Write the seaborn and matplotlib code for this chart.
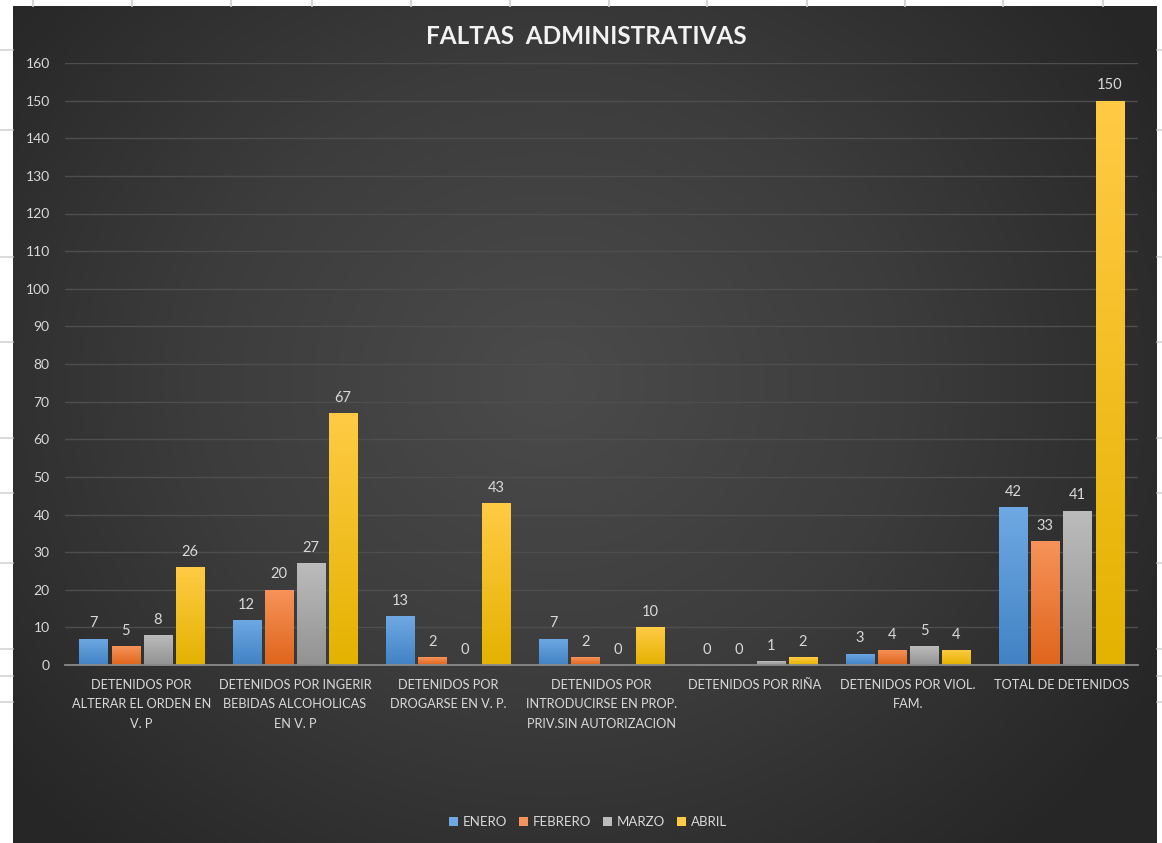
import numpy as np
import pandas as pd
import matplotlib.pyplot as plt
import seaborn as sns
from matplotlib.colors import LinearSegmentedColormap
from matplotlib.lines import Line2D
from matplotlib.patches import Patch


# Datos del grafico
categorias = ['DETENIDOS POR\nALTERAR EL ORDEN EN\nV. P',
              'DETENIDOS POR INGERIR\nBEBIDAS ALCOHOLICAS\nEN V. P',
              'DETENIDOS POR\nDROGARSE EN V. P.',
              'DETENIDOS POR\nINTRODUCIRSE EN PROP.\nPRIV.SIN AUTORIZACION',
              'DETENIDOS POR RIÑA',
              'DETENIDOS POR VIOL.\nFAM.',
              'TOTAL DE DETENIDOS']
meses = ['ENERO', 'FEBRERO', 'MARZO', 'ABRIL']
enero = [7, 12, 13, 7, 0, 3, 42]
febrero = [5, 20, 2, 2, 0, 4, 33]
marzo = [8, 27, 0, 0, 1, 5, 41]
abril = [26, 67, 43, 10, 2, 4, 150]

# colores (arriba, abajo) de cada serie
colores = {'ENERO': ('#6ea9e3', '#4282c4'),
           'FEBRERO': ('#f7935a', '#df651b'),
           'MARZO': ('#bcbcbc', '#929292'),
           'ABRIL': ('#ffcb45', '#e4b200')}
texto = '#d9d9d9'

W, H = 1162, 843

df = pd.DataFrame({'categoria': categorias * 4,
                   'mes': [m for m in meses for _ in categorias],
                   'valor': enero + febrero + marzo + abril})

sns.set_theme(style='dark')
plt.rcParams['font.family'] = ['Lato', 'DejaVu Sans']

fig = plt.figure(figsize=(W / 100, H / 100), dpi=100)
fig.patch.set_facecolor('white')

# lineas de la hoja de calculo en los margenes
for x in [33, 132, 231, 312, 411, 510, 609, 707, 807, 905, 1003, 1103]:
    fig.add_artist(Line2D([x / W, x / W], [1, 1 - 6 / H], transform=fig.transFigure,
                          color='#d6d6d6', lw=1.5))
for y in [50, 130, 257, 342, 438, 493, 563, 649, 676, 702]:
    fig.add_artist(Line2D([0, 13 / W], [1 - y / H, 1 - y / H], transform=fig.transFigure,
                          color='#d6d6d6', lw=1.2))
    fig.add_artist(Line2D([1157 / W, 1], [1 - y / H, 1 - y / H], transform=fig.transFigure,
                          color='#d6d6d6', lw=1.2))

# fondo con degradado radial
bg = fig.add_axes([13 / W, 0, 1144 / W, 837 / H])
bg.set_zorder(-1)
yy, xx = np.mgrid[0:1:400j, 0:1:550j]
r = np.sqrt(((xx - 0.47) / 0.62) ** 2 + ((yy - 0.45) / 0.75) ** 2)
cmap_bg = LinearSegmentedColormap.from_list('bg', ['#4b4b4b', '#3c3c3c', '#262626'])
bg.imshow(np.clip(r, 0, 1), cmap=cmap_bg, aspect='auto', vmin=0, vmax=1)
bg.axis('off')

ax = fig.add_axes([65 / W, 1 - 665 / H, (1138 - 65) / W, (665 - 63) / H])
ax.set_facecolor('none')

sns.barplot(data=df, x='categoria', y='valor', hue='mes', hue_order=meses,
            palette={m: colores[m][0] for m in meses}, width=0.84, gap=0.13,
            ax=ax, zorder=3, edgecolor='none', linewidth=0)

# degradado vertical en cada barra
for container, mes in zip(ax.containers, meses):
    cmap_bar = LinearSegmentedColormap.from_list(mes, [colores[mes][1], colores[mes][0]])
    for bar in container:
        h = bar.get_height()
        if h <= 0:
            continue
        x0 = bar.get_x()
        img = ax.imshow(np.linspace(0, 1, 128).reshape(-1, 1), cmap=cmap_bar,
                        extent=[x0, x0 + bar.get_width(), 0, h], origin='lower',
                        aspect='auto', zorder=3.5)
        img.set_clip_path(bar)
    ax.bar_label(container, padding=6, color=texto, fontsize=10.5)

ax.set_xlim(-0.5, 6.5)
ax.set_ylim(0, 160)
ax.set_yticks(range(0, 161, 10))
ax.set_xlabel('')
ax.set_ylabel('')
ax.tick_params(axis='y', length=0, pad=11, labelsize=10, labelcolor=texto)
ax.tick_params(axis='x', length=0, pad=10, labelsize=9.2, labelcolor=texto)
ax.yaxis.grid(True, color='#4e4e4e', lw=1)
ax.xaxis.grid(False)
ax.set_axisbelow(True)
for s in ['top', 'right', 'left']:
    ax.spines[s].set_visible(False)
ax.spines['bottom'].set_color('#8a8a8a')
ax.spines['bottom'].set_linewidth(1.3)
ax.spines['bottom'].set_zorder(5)
for lbl in ax.get_xticklabels():
    lbl.set_linespacing(1.75)

ax.get_legend().remove()
handles = [Patch(facecolor=colores[m][0], edgecolor='none') for m in meses]
fig.legend(handles, meses, loc='center', bbox_to_anchor=(588 / W, 1 - 822 / H), ncol=4,
           frameon=False, handlelength=0.7, handleheight=0.7, handletextpad=0.35,
           columnspacing=0.9, fontsize=9.5, labelcolor=texto)

fig.text(586 / W, 1 - 37 / H, 'FALTAS  ADMINISTRATIVAS',
         fontsize=17.5, fontweight='bold', color='#f2f2f2', ha='center', va='center')

fig.savefig('out.png', dpi=100, facecolor=fig.get_facecolor())
